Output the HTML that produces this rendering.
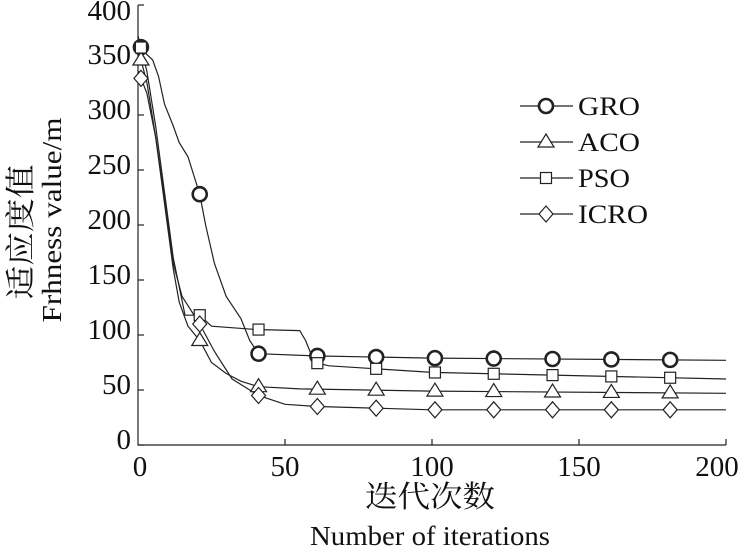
<!DOCTYPE html>
<html><head><meta charset="utf-8"><style>
body{margin:0;background:#fff}
svg text{font-family:"Liberation Serif","Noto Serif CJK SC",serif;fill:#111}
</style></head><body>
<svg id="s" width="739" height="547" xmlns="http://www.w3.org/2000/svg">
<g font-size="29" text-anchor="end">
<text x="131" y="449">0</text><text x="131" y="394">50</text><text x="131" y="339">100</text><text x="131" y="284">150</text><text x="131" y="229">200</text><text x="131" y="174">250</text><text x="131" y="119">300</text><text x="131" y="64">350</text><text x="131" y="20">400</text>
</g>
<g font-size="29" text-anchor="middle">
<text x="140" y="476">0</text><text x="285" y="476">50</text><text x="432" y="476">100</text><text x="579" y="476">150</text><text x="717" y="476">200</text>
<text x="430" y="507" font-size="30" textLength="130" lengthAdjust="spacingAndGlyphs">迭代次数</text>
<text x="430" y="545" font-size="27" textLength="240" lengthAdjust="spacingAndGlyphs">Number of iterations</text>
</g>
<text transform="translate(31,232) rotate(-90)" text-anchor="middle" font-size="30" textLength="135" lengthAdjust="spacingAndGlyphs">适应度值</text>
<text transform="translate(61,220) rotate(-90)" text-anchor="middle" font-size="27" textLength="205" lengthAdjust="spacingAndGlyphs">Frhness value/m</text>
<g font-size="26">
<text x="578" y="115" textLength="62" lengthAdjust="spacingAndGlyphs">GRO</text><text x="578" y="151" textLength="62" lengthAdjust="spacingAndGlyphs">ACO</text><text x="578" y="187" textLength="52" lengthAdjust="spacingAndGlyphs">PSO</text><text x="578" y="223" textLength="70" lengthAdjust="spacingAndGlyphs">ICRO</text>
</g>
<g id="plot" fill="none" stroke="#222" stroke-width="1.2"></g>
</svg>
<script>
var X=v=>138+v*2.94,Y=v=>445-v*1.1,g=document.getElementById('plot'),ns="http://www.w3.org/2000/svg";
function el(t,a){var e=document.createElementNS(ns,t);for(var k in a)e.setAttribute(k,a[k]);g.appendChild(e);return e}
el('path',{d:'M138,5V445H726'});
for(var i=0;i<=8;i++)el('path',{d:'M138,'+(445-i*55)+'h6'});
for(var i=1;i<=4;i++){var x=138+i*147;el('path',{d:'M'+x+',445v-6'})}
var S={
GRO:[[0,365],[3,355],[5,350],[7,335],[9,310],[12,290],[14,275],[17,262],[19,245],[21,228],[23,200],[26,165],[30,135],[35,115],[38,95],[41,83],[60,81],[100,79],[200,77]],
ACO:[[0,360],[3,330],[6,280],[9,220],[12,160],[14,130],[17,108],[21,95],[25,75],[30,65],[35,58],[41,53],[55,51],[100,49],[200,47]],
PSO:[[0,372],[3,340],[6,290],[9,230],[12,170],[16,118],[21,118],[25,108],[40,105],[55,104],[57,95],[60,75],[65,72],[100,66],[200,60]],
ICRO:[[0,340],[3,320],[6,280],[9,225],[12,165],[15,135],[21,110],[26,85],[32,60],[41,45],[50,37],[61,35],[100,32],[200,32]]};
function interp(p,v){for(var i=1;i<p.length;i++)if(v<=p[i][0]){var a=p[i-1],b=p[i];return a[1]+(b[1]-a[1])*(v-a[0])/(b[0]-a[0])}return p[p.length-1][1]}
function mk(n,x,y){
 if(n=='GRO')el('circle',{cx:x,cy:y,r:7,'stroke-width':2.6,fill:'#fff'});
 else if(n=='ACO')el('path',{d:'M'+x+','+(y-8)+'l8,13h-16z',fill:'#fff'});
 else if(n=='PSO')el('rect',{x:x-5.5,y:y-5.5,width:11,height:11,fill:'#fff'});
 else el('path',{d:'M'+x+','+(y-8)+'l7,8l-7,8l-7,-8z',fill:'#fff'});
}
for(var n in S){var p=S[n];el('polyline',{points:p.map(q=>X(q[0])+','+Y(q[1])).join(' ')});}
for(var n in S){for(var v=1;v<200;v+=20)mk(n,X(v),Y(interp(S[n],v)));}
var ly={GRO:106,ACO:142,PSO:178,ICRO:214};
for(var n in ly){el('path',{d:'M520,'+ly[n]+'H573'});mk(n,546,ly[n]);}
</script>
</body></html>
